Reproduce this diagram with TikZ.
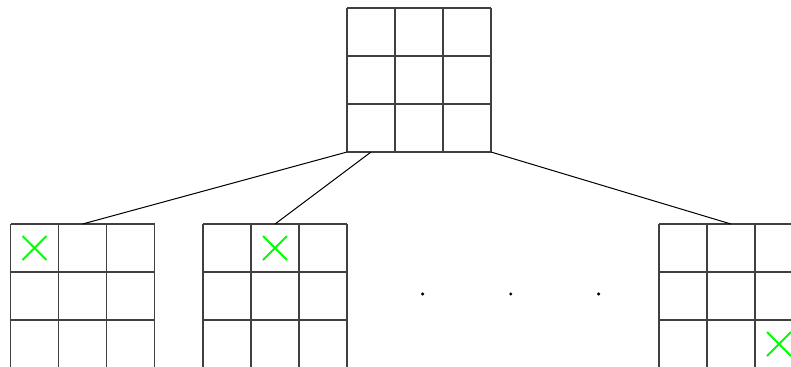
\documentclass[tikz,border=0pt]{standalone}
\usetikzlibrary{calc}

% 3x3 board lines on a board node
\newcommand{\drawboard}[1]{%
  \foreach \k in {0,1,2,3} {
    \draw[cell] ($(#1.south west)+(\k,0)$) -- ($(#1.north west)+(\k,0)$);
    \draw[cell] ($(#1.south west)+(0,\k)$) -- ($(#1.south east)+(0,\k)$);
  }}
% cross in column #2, row #3 (counted from the top)
\newcommand{\crossat}[3]{%
  \coordinate (cc) at ($(#1.north west)+(#2+0.5,-#3-0.5)$);
  \draw[xmark] ($(cc)+(-0.25,-0.25)$) -- ($(cc)+(0.25,0.25)$);
  \draw[xmark] ($(cc)+(-0.25,0.25)$) -- ($(cc)+(0.25,-0.25)$);}

\begin{document}
\begin{tikzpicture}[
  board/.style={rectangle, minimum size=3cm, inner sep=0pt, outer sep=0pt},
  cell/.style={draw=black!75, line width=0.75pt},
  link/.style={black, line width=0.6pt},
  xmark/.style={draw={rgb,255:red,0;green,255;blue,0}, line width=1.1pt},
]
\useasboundingbox (0,0) rectangle (16.479,7.625);
\clip (0,0) rectangle (16.479,7.625);

% ── Boards ──
\node[board] (top) at (8.729, 5.958) {};
\node[board] (b1) at (1.719, 1.458) {};
\node[board] (b2) at (5.729, 1.458) {};
\node[board] (bn) at (15.229, 1.458) {};

\drawboard{top}
\drawboard{b1}
\drawboard{b2}
\drawboard{bn}

% ── Moves ──
\crossat{b1}{0}{0}
\crossat{b2}{1}{0}
\crossat{bn}{2}{2}

% ── Links ──
\draw[link] (top.south west) -- (b1.north);
\draw[link] ($(top.south west)+(0.5,0)$) -- (b2.north);
\draw[link] (top.south east) -- (bn.north);

% ── Ellipsis ──
\foreach \x in {8.806, 10.64, 12.47}
  \fill (\x, 1.5) circle (0.036);

\end{tikzpicture}
\end{document}
